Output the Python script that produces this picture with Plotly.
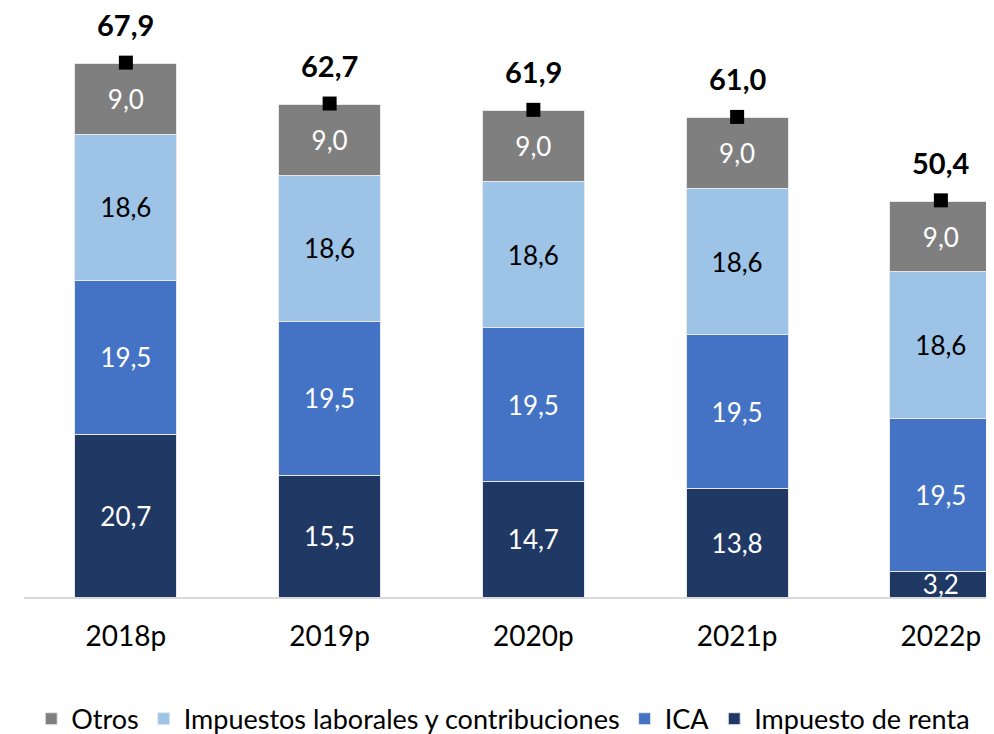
import plotly.graph_objects as go

years = ["2018p", "2019p", "2020p", "2021p", "2022p"]
renta = [20.7, 15.5, 14.7, 13.8, 3.2]
ica = [19.5, 19.5, 19.5, 19.5, 19.5]
laborales = [18.6, 18.6, 18.6, 18.6, 18.6]
otros = [9.0, 9.0, 9.0, 9.0, 9.0]
totals = [67.9, 62.7, 61.9, 61.0, 50.4]

FONT = "Lato"
series = [
    ("Impuesto de renta", renta, "#203864", "white"),
    ("ICA", ica, "#4472c4", "white"),
    ("Impuestos laborales y contribuciones", laborales, "#9dc3e6", "black"),
    ("Otros", otros, "#7f7f7f", "white"),
]

def fmt(v):
    return f"{v:.1f}".replace(".", ",")

fig = go.Figure()
for name, vals, color, tcol in series:
    fig.add_trace(go.Bar(
        x=years, y=vals, name=name,
        marker=dict(color=color, line=dict(color="#e8e8e8", width=1)),
        text=[fmt(v) for v in vals],
        textposition="inside", insidetextanchor="middle",
        constraintext="none", textangle=0,
        textfont=dict(family=FONT, size=26, color=tcol),
        width=0.5,
    ))

fig.add_trace(go.Scatter(
    x=years, y=totals, mode="markers",
    marker=dict(symbol="square", size=14, color="black"),
    showlegend=False, cliponaxis=False,
))
for yr, t in zip(years, totals):
    fig.add_annotation(x=yr, y=t, text=f"<b>{fmt(t)}</b>", showarrow=False,
                       yanchor="middle", yshift=38,
                       font=dict(family=FONT, size=29, color="black"))

fig.update_layout(
    barmode="stack",
    width=994, height=734,
    margin=dict(l=16, r=0, t=0, b=145, autoexpand=False),
    plot_bgcolor="white", paper_bgcolor="white",
    font=dict(family=FONT, size=26, color="black"),
    xaxis=dict(range=[-0.5, 4.30], showline=True, linecolor="#d9d9d9", linewidth=1.5,
               ticks="outside", ticklen=14, tickcolor="rgba(0,0,0,0)",
               tickfont=dict(size=28, family=FONT, color="black"), showgrid=False),
    yaxis=dict(range=[0, 74.84], visible=False, showgrid=False),
    legend=dict(orientation="h", x=0.49, xanchor="center", y=-0.249, yanchor="bottom",
                traceorder="reversed", font=dict(size=27, family=FONT),
                itemwidth=30, tracegroupgap=0, itemclick=False),
    showlegend=True,
)
fig.write_html("out.html")
